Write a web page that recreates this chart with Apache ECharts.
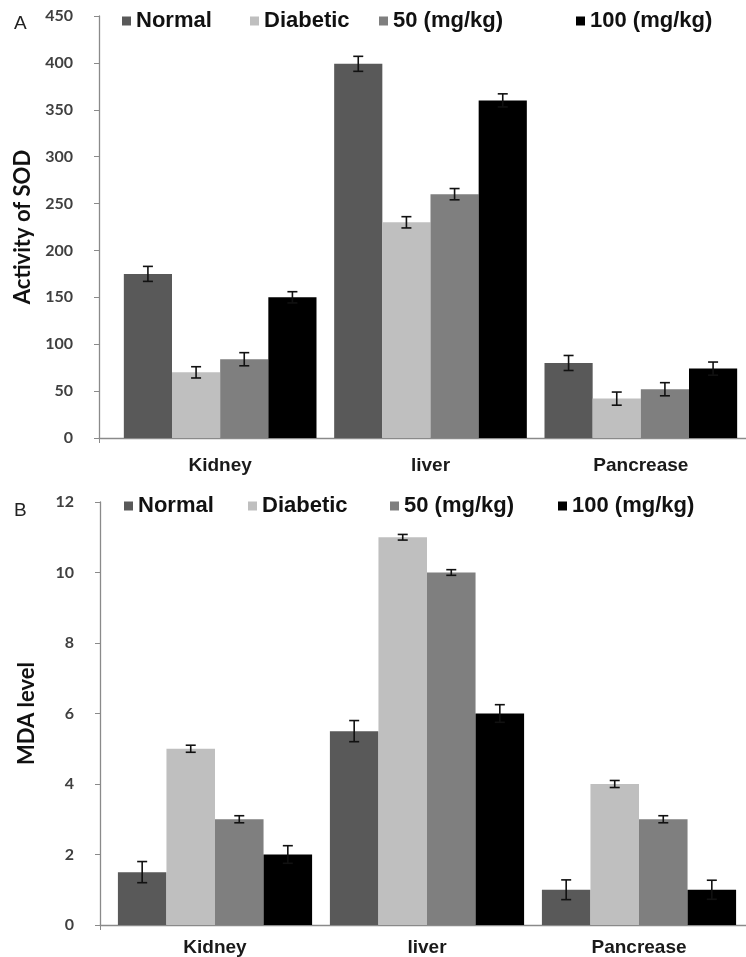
<!DOCTYPE html>
<html><head><meta charset="utf-8">
<script src="https://cdn.jsdelivr.net/npm/echarts@6/dist/echarts.min.js"></script>
<style>html,body{margin:0;padding:0;background:#fff}#c{width:746px;height:957px}</style>
</head><body><div id="c"></div>
<script>
// ---------- data ----------
const categories = ['Kidney', 'liver', 'Pancrease'];
const seriesNames = ['Normal', 'Diabetic', '50 (mg/kg)', '100 (mg/kg)'];
const seriesColors = ['#595959', '#bfbfbf', '#7f7f7f', '#000000'];

// Panel A: Activity of SOD
const sodTicks = [0, 50, 100, 150, 200, 250, 300, 350, 400, 450];
const sodNormal   = [175, 399, 80];
const sodDiabetic = [70, 230, 42];
const sod50       = [84, 260, 52];
const sod100      = [150, 360, 74];
const sodNormalErr   = [8, 8, 8];
const sodDiabeticErr = [6, 6, 7];
const sod50Err       = [7, 6, 7];
const sod100Err      = [6, 7, 7];

// Panel B: MDA level
const mdaTicks = [0, 2, 4, 6, 8, 10, 12];
const mdaNormal   = [1.5, 5.5, 1];
const mdaDiabetic = [5, 11, 4];
const mda50       = [3, 10, 3];
const mda100      = [2, 6, 1];
const mdaNormalErr   = [0.3, 0.3, 0.28];
const mdaDiabeticErr = [0.1, 0.08, 0.1];
const mda50Err       = [0.1, 0.08, 0.1];
const mda100Err      = [0.25, 0.25, 0.27];

// ---------- build ----------
const GAP = 0.084;
const sodVals = [sodNormal, sodDiabetic, sod50, sod100];
const sodErrs = [sodNormalErr, sodDiabeticErr, sod50Err, sod100Err];
const mdaVals = [mdaNormal, mdaDiabetic, mda50, mda100];
const mdaErrs = [mdaNormalErr, mdaDiabeticErr, mda50Err, mda100Err];

function errData(vals, errs) {
  const out = [];
  vals.forEach((arr, si) => arr.forEach((v, ci) => out.push([ci, si, v - errs[si][ci], v + errs[si][ci]])));
  return out;
}
function errRender(params, api) {
  const cat = api.value(0), si = api.value(1), lo = api.value(2), hi = api.value(3);
  const band = api.size([1, 0])[0];
  const group = band * (1 - GAP);
  const bw = group / 4;
  const pLo = api.coord([cat, lo]);
  const pHi = api.coord([cat, hi]);
  const x = pLo[0] - group / 2 + bw * (si + 0.5);
  const h = 5;
  const style = { stroke: '#111', lineWidth: 1.6 };
  return { type: 'group', children: [
    { type: 'line', shape: { x1: x, y1: pLo[1], x2: x, y2: pHi[1] }, style },
    { type: 'line', shape: { x1: x - h, y1: pHi[1], x2: x + h, y2: pHi[1] }, style },
    { type: 'line', shape: { x1: x - h, y1: pLo[1], x2: x + h, y2: pLo[1] }, style }
  ]};
}

const axisGray = '#8a8a8a';
function axesPair(ticks, name, nameGap) {
  return {
    x: { type: 'value', min: 0, max: 1, interval: 1, axisLine: { show: true, lineStyle: { color: axisGray, width: 1.3 } },
         axisTick: { show: true, length: 5, lineStyle: { color: axisGray } }, axisLabel: { show: false }, splitLine: { show: false } },
    y: { type: 'value', min: ticks[0], max: ticks[ticks.length - 1], interval: ticks[1] - ticks[0],
         axisLine: { show: true, lineStyle: { color: axisGray, width: 1.3 } },
         axisTick: { show: true, length: 5, lineStyle: { color: axisGray } },
         axisLabel: { margin: 26, color: '#404040', fontFamily: 'Lato', fontWeight: 'bold', fontSize: 16 },
         splitLine: { show: false },
         name: name, nameLocation: 'middle', nameRotate: 90, nameGap: nameGap,
         nameTextStyle: { fontFamily: 'Lato', fontWeight: 'bold', fontSize: 22, color: '#111' } }
  };
}
const A = axesPair(sodTicks, 'Activity of SOD', 62);
const B = axesPair(mdaTicks, 'MDA level', 62);

function catAxis(grid, margin) {
  return { gridIndex: grid, type: 'category', data: categories,
    axisLine: { show: false }, axisTick: { show: false },
    axisLabel: { margin: margin, color: '#1a1a1a', fontFamily: 'Liberation Sans', fontWeight: 'bold', fontSize: 19 } };
}
function hiddenY(grid, ticks) {
  return { gridIndex: grid, type: 'value', min: ticks[0], max: ticks[ticks.length - 1], show: false, splitLine: { show: false } };
}

const series = [];
[[sodVals, sodErrs, 1], [mdaVals, mdaErrs, 3]].forEach(([vals, errs, ai]) => {
  vals.forEach((arr, si) => series.push({
    type: 'bar', name: seriesNames[si], xAxisIndex: ai, yAxisIndex: ai, data: arr,
    barGap: '0%', barCategoryGap: (GAP * 100) + '%',
    itemStyle: { color: seriesColors[si] }, emphasis: { disabled: true }
  }));
  series.push({ type: 'custom', xAxisIndex: ai, yAxisIndex: ai, data: errData(vals, errs),
    renderItem: errRender, z: 10, silent: true });
});

function legendItem(name, left, top) {
  return { data: [name], left: left, top: top, icon: 'rect', itemWidth: 9, itemHeight: 9, itemGap: 5,
    selectedMode: false, padding: 0,
    textStyle: { fontFamily: 'Liberation Sans', fontWeight: 'bold', fontSize: 22, color: '#111' } };
}
const legendA = [122, 250, 379, 576];
const legendB = [124, 248, 390, 558];
const legends = [];
seriesNames.forEach((n, i) => legends.push(legendItem(n, legendA[i], 10)));
seriesNames.forEach((n, i) => legends.push(legendItem(n, legendB[i], 495)));

const option = {
  animation: false,
  backgroundColor: '#fff',
  title: [
    { text: 'A', left: 9, top: 9, textStyle: { fontFamily: 'Liberation Sans', fontWeight: 'normal', fontSize: 19, color: '#222' } },
    { text: 'B', left: 9, top: 496, textStyle: { fontFamily: 'Liberation Sans', fontWeight: 'normal', fontSize: 19, color: '#222' } }
  ],
  legend: legends,
  grid: [
    { left: 99, right: 0, top: 16, height: 422 },
    { left: 115, width: 637, top: 16, height: 422 },
    { left: 100, right: 0, top: 502, height: 423 },
    { left: 109, width: 636, top: 502, height: 423 }
  ],
  xAxis: [
    Object.assign({ gridIndex: 0 }, A.x),
    catAxis(1, 18),
    Object.assign({ gridIndex: 2 }, B.x),
    catAxis(3, 13)
  ],
  yAxis: [
    Object.assign({ gridIndex: 0 }, A.y),
    hiddenY(1, sodTicks),
    Object.assign({ gridIndex: 2 }, B.y),
    hiddenY(3, mdaTicks)
  ],
  series: series
};
echarts.init(document.getElementById('c'), null, { renderer: 'canvas' }).setOption(option);
</script>
</body></html>
